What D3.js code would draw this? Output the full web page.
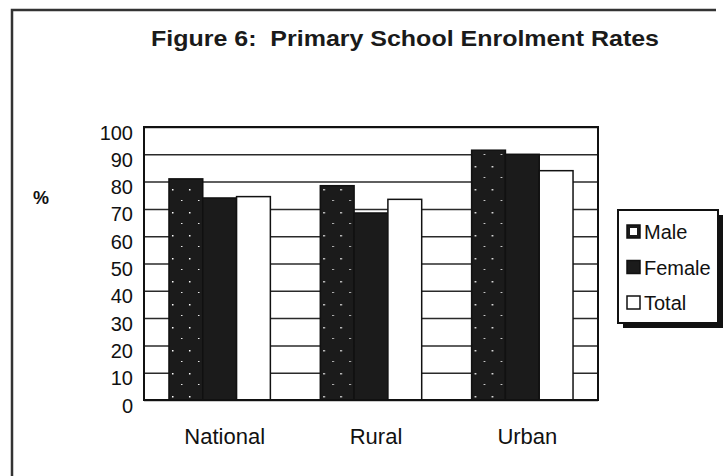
<!DOCTYPE html>
<html>
<head>
<meta charset="utf-8">
<script src="https://cdn.jsdelivr.net/npm/d3@7"></script>
<style>
  body { margin: 0; background: #fff; }
  svg { display: block; font-family: "Liberation Sans", Arial, sans-serif; }
</style>
</head>
<body>
<div id="chart"></div>
<script>
var categories = ["National", "Rural", "Urban"];
var series = ["Male", "Female", "Total"];
var male = [81, 78.5, 91.5];
var female = [74, 68.5, 90];
var total = [74.5, 73.5, 84];
var yTicks = [0, 10, 20, 30, 40, 50, 60, 70, 80, 90, 100];
var title = "Figure 6:  Primary School Enrolment Rates";

var values = { Male: male, Female: female, Total: total };

var w = 725, h = 476;
var svg = d3.select("#chart").append("svg")
  .attr("width", w)
  .attr("height", h);

// sparse speckle texture for the Male bars
var defs = svg.append("defs");
var pat = defs.append("pattern")
  .attr("id", "speckle")
  .attr("patternUnits", "userSpaceOnUse")
  .attr("width", 17)
  .attr("height", 23);
pat.append("rect").attr("width", 17).attr("height", 23).attr("fill", "#1b1b1b");
pat.append("rect").attr("x", 3).attr("y", 5).attr("width", 1.5).attr("height", 1.5).attr("fill", "#fff");
pat.append("rect").attr("x", 12).attr("y", 16).attr("width", 1.5).attr("height", 1).attr("fill", "#eee");

var fills = { Male: "url(#speckle)", Female: "#1b1b1b", Total: "#fff" };

// outer frame (left and top edges only)
svg.append("path")
  .attr("d", "M12,476 L12,10 L716,10")
  .attr("fill", "none")
  .attr("stroke", "#333")
  .attr("stroke-width", 2.5);

svg.append("text")
  .attr("x", 405)
  .attr("y", 46)
  .attr("text-anchor", "middle")
  .attr("font-size", 22)
  .attr("font-weight", "bold")
  .attr("textLength", 508)
  .attr("lengthAdjust", "spacingAndGlyphs")
  .style("white-space", "pre")
  .attr("fill", "#1a1a1a")
  .text(title);

var plotL = 144, plotR = 598, plotT = 127, plotB = 400;

var x = d3.scaleBand()
  .domain(categories)
  .range([plotL, plotR])
  .paddingInner(0.33)
  .paddingOuter(0.165);

var xs = d3.scaleBand()
  .domain(series)
  .range([0, x.bandwidth()]);

var y = d3.scaleLinear()
  .domain([0, 100])
  .range([plotB, plotT]);

// gridlines
svg.append("g")
  .attr("transform", "translate(" + plotL + ",0)")
  .call(d3.axisLeft(y).tickValues(yTicks).tickSize(-(plotR - plotL)).tickFormat(""))
  .call(function(g) {
    g.select(".domain").remove();
    g.selectAll("line").attr("stroke", "#2a2a2a").attr("stroke-width", 1.5);
  });

// bars
var groups = svg.append("g").selectAll("g")
  .data(categories)
  .enter()
  .append("g")
  .attr("transform", function(d) { return "translate(" + x(d) + ",0)"; });

groups.selectAll("rect")
  .data(function(d, i) {
    return series.map(function(s) { return { s: s, v: values[s][i] }; });
  })
  .enter()
  .append("rect")
  .attr("x", function(d) { return xs(d.s); })
  .attr("y", function(d) { return y(d.v); })
  .attr("width", xs.bandwidth())
  .attr("height", function(d) { return plotB - y(d.v); })
  .attr("fill", function(d) { return fills[d.s]; })
  .attr("stroke", "#111")
  .attr("stroke-width", 1.5);

// plot border
svg.append("rect")
  .attr("x", plotL)
  .attr("y", plotT)
  .attr("width", plotR - plotL)
  .attr("height", plotB - plotT)
  .attr("fill", "none")
  .attr("stroke", "#111")
  .attr("stroke-width", 2);

// y axis labels
svg.append("g")
  .attr("transform", "translate(" + plotL + ",0)")
  .call(d3.axisLeft(y).tickValues(yTicks).tickSize(0).tickPadding(11))
  .call(function(g) {
    g.select(".domain").remove();
    g.selectAll("text")
      .attr("font-size", 20)
      .attr("font-family", "Liberation Sans, Arial, sans-serif")
      .attr("fill", "#111")
      .attr("dy", "0.6em");
  });

// x axis labels
svg.append("g")
  .attr("transform", "translate(5," + plotB + ")")
  .call(d3.axisBottom(x).tickSize(0).tickPadding(28))
  .call(function(g) {
    g.select(".domain").remove();
    g.selectAll("text")
      .attr("font-size", 22)
      .attr("font-family", "Liberation Sans, Arial, sans-serif")
      .attr("fill", "#111");
  });

svg.append("text")
  .attr("x", 41)
  .attr("y", 204)
  .attr("text-anchor", "middle")
  .attr("font-size", 18)
  .attr("font-weight", "bold")
  .attr("fill", "#111")
  .text("%");

// legend
var lg = svg.append("g").attr("transform", "translate(618,210)");
lg.append("rect")
  .attr("x", 5).attr("y", 5)
  .attr("width", 100).attr("height", 113)
  .attr("fill", "#111");
lg.append("rect")
  .attr("width", 100).attr("height", 113)
  .attr("fill", "#fff")
  .attr("stroke", "#111")
  .attr("stroke-width", 2);

var item = lg.selectAll(".item")
  .data(series)
  .enter()
  .append("g")
  .attr("transform", function(d, i) { return "translate(9," + (22 + i * 35.5) + ")"; });

item.append("rect")
  .attr("x", 0).attr("y", -7)
  .attr("width", 13).attr("height", 13)
  .attr("fill", function(d) { return d === "Male" ? "#1b1b1b" : fills[d]; })
  .attr("stroke", "#111")
  .attr("stroke-width", 1.5);

item.filter(function(d) { return d === "Male"; })
  .append("rect")
  .attr("x", 3).attr("y", -4)
  .attr("width", 7).attr("height", 7)
  .attr("fill", "#fff");

item.append("text")
  .attr("x", 17)
  .attr("y", 7)
  .attr("font-size", 20)
  .attr("fill", "#111")
  .text(function(d) { return d; });
</script>
</body>
</html>
